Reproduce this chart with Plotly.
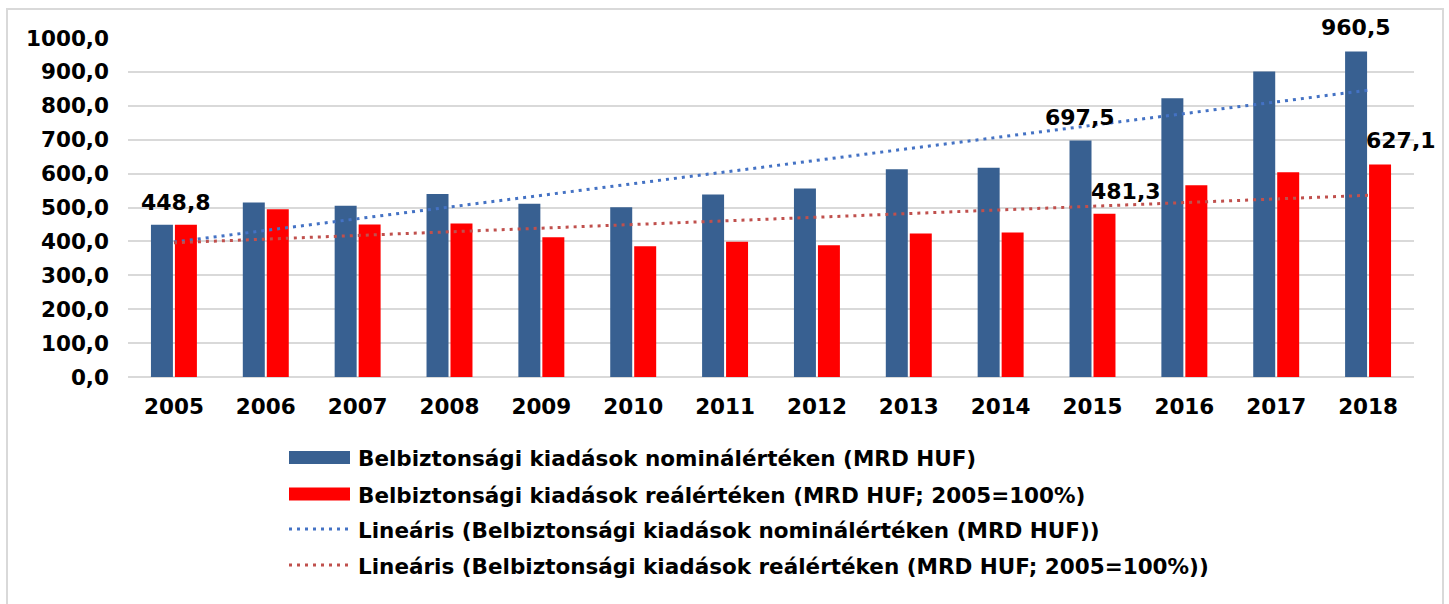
import plotly.graph_objects as go

years = ["2005", "2006", "2007", "2008", "2009", "2010", "2011",
         "2012", "2013", "2014", "2015", "2016", "2017", "2018"]
nominal = [448.8, 515, 505, 540, 511, 501, 538, 556, 613, 617, 697.5, 822, 901, 960.5]
real = [448.8, 495, 450, 453, 412, 386, 399, 389, 423, 426, 481.3, 566, 604, 627.1]

# linear trend lines (end points)
trend_x = ["2005", "2018"]
trend_nominal = [398, 846]
trend_real = [396, 536]

y_ticks = [0, 100, 200, 300, 400, 500, 600, 700, 800, 900, 1000]
y_ticktext = ["0,0", "100,0", "200,0", "300,0", "400,0", "500,0",
              "600,0", "700,0", "800,0", "900,0", "1000,0"]

legend_names = [
    "Belbiztonsági kiadások nominálértéken (MRD HUF)",
    "Belbiztonsági kiadások reálértéken (MRD HUF; 2005=100%)",
    "Lineáris (Belbiztonsági kiadások nominálértéken (MRD HUF))",
    "Lineáris (Belbiztonsági kiadások reálértéken (MRD HUF; 2005=100%))",
]

BLUE = "#386091"
RED = "#FF0000"
TBLUE = "#4472C4"
TRED = "#C0504D"
FONT = "DejaVu Sans"

# body margin is removed by post_script below
W, H = 1449, 604
ML, MT = 128, 38
MR = W - 1414
MB = H - 377
PW = W - ML - MR
PH = H - MT - MB


def px(x):
    return (x - ML) / PW


def py(y):
    return (H - MB - y) / PH


fig = go.Figure()
fig.add_trace(go.Bar(x=years, y=nominal, name=legend_names[0], marker_color=BLUE,
                     marker_line_width=0, showlegend=False))
fig.add_trace(go.Bar(x=years, y=real, name=legend_names[1], marker_color=RED,
                     marker_line_width=0, showlegend=False))
fig.add_trace(go.Scatter(x=trend_x, y=trend_nominal, mode="lines", name=legend_names[2],
                         line=dict(color=TBLUE, width=3, dash="3px,5px"), showlegend=False))
fig.add_trace(go.Scatter(x=trend_x, y=trend_real, mode="lines", name=legend_names[3],
                         line=dict(color=TRED, width=3, dash="3px,5px"), showlegend=False))

# data labels
labels = [
    ("2005", nominal[0], "448,8", 2, 22),
    ("2015", nominal[10], "697,5", -13, 23),
    ("2015", real[10], "481,3", 33, 22),
    ("2018", nominal[13], "960,5", -12, 24),
    ("2018", real[13], "627,1", 33, 24),
]
annotations = []
for x, y, t, xs, ys in labels:
    annotations.append(dict(x=years.index(x), y=y, text=t, showarrow=False, xshift=xs, yshift=ys,
                            xanchor="center", yanchor="middle",
                            font=dict(family=FONT, size=22, color="black", weight="bold")))

# manual legend
shapes = []
rows_y = [457.5, 494, 529, 565]
sx0, sx1 = 289, 350
for i, name in enumerate(legend_names):
    cy = rows_y[i]
    if i < 2:
        shapes.append(dict(type="rect", xref="paper", yref="paper",
                           x0=px(sx0), x1=px(sx1), y0=py(cy - 6.5), y1=py(cy + 6.5),
                           fillcolor=[BLUE, RED][i], line_width=0))
    else:
        shapes.append(dict(type="line", xref="paper", yref="paper",
                           x0=px(sx0), x1=px(sx1), y0=py(cy), y1=py(cy),
                           line=dict(color=[TBLUE, TRED][i - 2], width=3, dash="3px,5px")))
    annotations.append(dict(x=px(356), y=py(cy + 1), xref="paper", yref="paper", text=name,
                            showarrow=False, xanchor="left", yanchor="middle",
                            font=dict(family=FONT, size=21.5, color="black", weight="bold")))

# outer chart border
shapes.append(dict(type="rect", xref="paper", yref="paper",
                   x0=px(7), x1=px(1443), y0=py(640), y1=py(9),
                   line=dict(color="#D9D9D9", width=2), fillcolor="rgba(0,0,0,0)"))

fig.update_layout(
    width=W, height=H,
    margin=dict(l=ML, r=MR, t=MT, b=MB),
    paper_bgcolor="white", plot_bgcolor="white",
    barmode="group", bargap=0.478, bargroupgap=0.083,
    showlegend=False,
    annotations=annotations, shapes=shapes,
    font=dict(family=FONT, color="black"),
    xaxis=dict(type="category", range=[-0.5, len(years) - 0.5],
               showgrid=False, showline=False, ticks="",
               tickfont=dict(family=FONT, size=21.5, color="black", weight="bold"),
               ticklabelstandoff=14),
    yaxis=dict(range=[0, 1000], tickvals=y_ticks, ticktext=y_ticktext,
               showgrid=True, gridcolor="#D9D9D9", gridwidth=2,
               zeroline=True, zerolinecolor="#D9D9D9", zerolinewidth=2,
               showline=False, ticks="",
               tickfont=dict(family=FONT, size=21.5, color="black", weight="bold"),
               ticklabelstandoff=18),
)

fig.write_html("out.html", config={"displayModeBar": False},
               post_script="document.body.style.margin='0';document.body.style.overflow='hidden';")
